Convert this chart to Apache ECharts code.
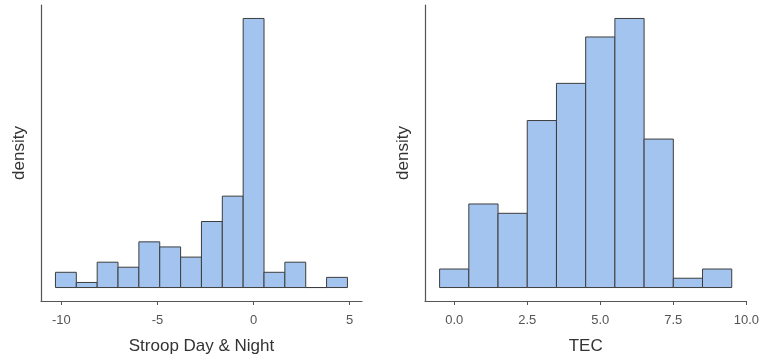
<!DOCTYPE html>
<html>
<head>
<meta charset="utf-8">
<script src="https://cdn.jsdelivr.net/npm/echarts@6/dist/echarts.min.js"></script>
<style>
  html, body { margin: 0; padding: 0; background: #fff; }
  #chart { width: 762px; height: 360px; }
</style>
</head>
<body>
<div id="chart"></div>
<script>
// Stroop Day & Night: bin centres (width ~1.085) and density per bin
const stroopWidth = 1.085
const stroopCenters = [-9.765, -8.68, -7.595, -6.51, -5.425, -4.34, -3.255, -2.17, -1.085, 0, 1.085, 2.17, 3.255, 4.34]
const stroopDensity = [0.0213, 0.0071, 0.0354, 0.0284, 0.0638, 0.0567, 0.0425, 0.0922, 0.1276, 0.3757, 0.0213, 0.0354, 0, 0.0142]
const stroopTicks = [-10, -5, 0, 5]

// TEC: bin centres (width 1) and density per bin
const tecWidth = 1
const tecCenters = [0, 1, 2, 3, 4, 5, 6, 7, 8, 9]
const tecDensity = [0.0149, 0.0672, 0.0597, 0.1343, 0.1642, 0.2015, 0.2164, 0.1194, 0.0075, 0.0149]
const tecTicks = [0, 2.5, 5, 7.5, 10]

const textColor = '#555'
const axisColor = '#555'
const fill = '#A4C4F0'
const font = 'Liberation Sans, Arial, sans-serif'

function histSeries(idx, centers, values, width) {
  return {
    type: 'custom',
    xAxisIndex: idx,
    yAxisIndex: idx,
    data: centers.map((c, i) => [c - width / 2, c + width / 2, values[i]]),
    renderItem(params, api) {
      const p0 = api.coord([api.value(0), api.value(2)])
      const p1 = api.coord([api.value(1), 0])
      return {
        type: 'rect',
        shape: { x: p0[0], y: p0[1], width: p1[0] - p0[0], height: p1[1] - p0[1] },
        style: { fill: fill, stroke: '#3d3d3d', lineWidth: 1 }
      }
    },
    encode: { x: [0, 1], y: 2 },
    silent: true
  }
}

function xAxis(idx, name, min, max, ticks, fmt) {
  return {
    type: 'value',
    gridIndex: idx,
    min: min,
    max: max,
    name: name,
    nameLocation: 'middle',
    nameGap: 37,
    nameTextStyle: { color: '#333', fontSize: 17, fontFamily: font },
    axisLine: { show: true, onZero: false, lineStyle: { color: axisColor, width: 1.2 } },
    axisTick: { show: true, length: 4, customValues: ticks, lineStyle: { color: axisColor } },
    splitLine: { show: false },
    axisLabel: {
      color: textColor, fontSize: 13, fontFamily: font, margin: 13,
      customValues: ticks,
      formatter: fmt
    }
  }
}

function yAxis(idx, values) {
  const top = Math.max(...values)
  return {
    type: 'value',
    gridIndex: idx,
    min: -0.05 * top,
    max: 1.05 * top,
    name: 'density',
    nameLocation: 'middle',
    nameGap: 13,
    nameTextStyle: { color: '#333', fontSize: 17, fontFamily: font },
    axisLine: { show: true, onZero: false, lineStyle: { color: axisColor, width: 1.2 } },
    axisTick: { show: false },
    axisLabel: { show: false },
    splitLine: { show: false }
  }
}

const chart = echarts.init(document.getElementById('chart'), null, { renderer: 'canvas' })
chart.setOption({
  backgroundColor: '#fff',
  animation: false,
  grid: [
    { left: 41, top: 5, width: 321, height: 297 },
    { left: 425, top: 5, width: 323, height: 297 }
  ],
  xAxis: [
    xAxis(0, 'Stroop Day & Night', -11.06, 5.64, stroopTicks, v => String(v)),
    xAxis(1, 'TEC', -1, 10, tecTicks, v => v.toFixed(1))
  ],
  yAxis: [yAxis(0, stroopDensity), yAxis(1, tecDensity)],
  series: [
    histSeries(0, stroopCenters, stroopDensity, stroopWidth),
    histSeries(1, tecCenters, tecDensity, tecWidth)
  ]
})
</script>
</body>
</html>
